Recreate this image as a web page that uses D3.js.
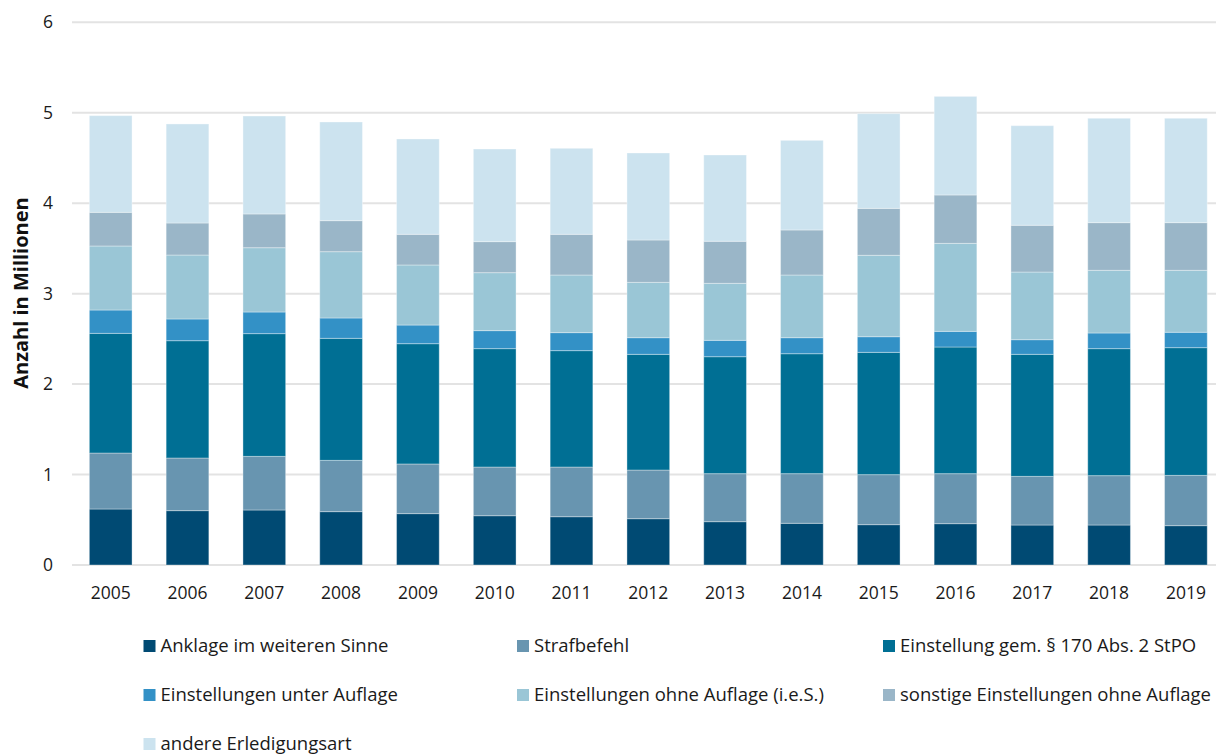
<!DOCTYPE html>
<html><head><meta charset="utf-8">
<script src="https://cdn.jsdelivr.net/npm/d3@7"></script>
<style>body{margin:0;background:#fff;} svg{display:block;font-family:"Open Sans",sans-serif;}</style>
</head><body><svg id="c" width="1216" height="754"></svg>
<script>
const years = ["2005","2006","2007","2008","2009","2010","2011","2012","2013","2014","2015","2016","2017","2018","2019"];
const seriesNames = ["Anklage im weiteren Sinne","Strafbefehl","Einstellung gem. § 170 Abs. 2 StPO","Einstellungen unter Auflage","Einstellungen ohne Auflage (i.e.S.)","sonstige Einstellungen ohne Auflage","andere Erledigungsart"];
const colors = ["#004a73","#6895b0","#006f94","#3391c6","#9ac6d6","#9ab6c8","#cce3ef"];
const anklage   = [0.619,0.601,0.608,0.590,0.568,0.545,0.534,0.512,0.479,0.461,0.446,0.457,0.442,0.442,0.435];
const strafbef  = [0.619,0.582,0.593,0.567,0.549,0.538,0.549,0.538,0.531,0.549,0.553,0.553,0.538,0.546,0.556];
const einst170  = [1.323,1.297,1.357,1.349,1.330,1.309,1.287,1.279,1.293,1.326,1.352,1.400,1.349,1.404,1.412];
const unterAufl = [0.258,0.240,0.239,0.225,0.206,0.199,0.199,0.184,0.181,0.177,0.173,0.173,0.162,0.173,0.170];
const ohneAufl  = [0.708,0.707,0.711,0.733,0.664,0.641,0.637,0.612,0.630,0.693,0.900,0.973,0.748,0.693,0.685];
const sonstige  = [0.372,0.354,0.373,0.343,0.339,0.343,0.450,0.468,0.465,0.498,0.519,0.535,0.517,0.527,0.527];
const andere    = [1.069,1.095,1.083,1.091,1.054,1.024,0.951,0.962,0.954,0.991,1.047,1.090,1.101,1.154,1.154];
const yTicks = [0,1,2,3,4,5,6];
const seriesValues = [anklage,strafbef,einst170,unterAufl,ohneAufl,sonstige,andere];

const svg = d3.select("#c");
const x = d3.scaleBand().domain(years).range([72.3,1224.3]).paddingInner(0.444).paddingOuter(0.222);
const y = d3.scaleLinear().domain([0,6]).range([565,22.3]);

// grid
svg.append("g").selectAll("line").data(yTicks).join("line")
  .attr("x1",72).attr("x2",1216).attr("y1",d=>y(d)).attr("y2",d=>y(d))
  .attr("stroke","#e3e3e3").attr("stroke-width",2);

// y axis labels
const ya = svg.append("g").attr("transform","translate(53,0)")
  .call(d3.axisLeft(y).tickValues(yTicks).tickSize(0).tickPadding(0).tickFormat(d3.format("d")));
ya.select(".domain").remove();
ya.selectAll("text").attr("font-size",17.5).attr("fill","#1a1a1a").attr("font-family","'Open Sans',sans-serif");

// x axis labels
const xa = svg.append("g").attr("transform","translate(0,599)")
  .call(d3.axisBottom(x).tickSize(0).tickPadding(0));
xa.select(".domain").remove();
xa.selectAll("text").attr("y",0).attr("dy",0).attr("font-size",17.5).attr("fill","#1a1a1a").attr("font-family","'Open Sans',sans-serif");

// stack
const rows = years.map((yr,i)=>{const o={year:yr}; seriesNames.forEach((s,j)=>o[s]=seriesValues[j][i]); return o;});
const stacked = d3.stack().keys(seriesNames)(rows);
svg.append("g").selectAll("g").data(stacked).join("g")
  .attr("fill",(d,i)=>colors[i])
  .selectAll("rect").data(d=>d).join("rect")
  .attr("x",d=>x(d.data.year)).attr("width",x.bandwidth())
  .attr("y",d=>y(d[1])).attr("height",d=>y(d[0])-y(d[1]))
  .attr("stroke","#ffffff").attr("stroke-opacity",0.35).attr("stroke-width",1);

// y title
svg.append("text").attr("transform","translate(28,293) rotate(-90)")
  .attr("text-anchor","middle").attr("font-size",20).attr("font-weight","bold")
  .attr("fill","#111").text("Anzahl in Millionen");

// legend
const legX = [143.5,517,883], legY = [652,701,750];
const lg = svg.append("g").selectAll("g").data(seriesNames).join("g")
  .attr("transform",(d,i)=>`translate(${legX[i%3]},${legY[Math.floor(i/3)]})`);
lg.append("rect").attr("x",0).attr("y",-12).attr("width",12).attr("height",12).attr("fill",(d,i)=>colors[i]);
lg.append("text").attr("x",17).attr("y",0).attr("font-size",18.5).attr("fill","#1a1a1a").text(d=>d);
</script></body></html>
